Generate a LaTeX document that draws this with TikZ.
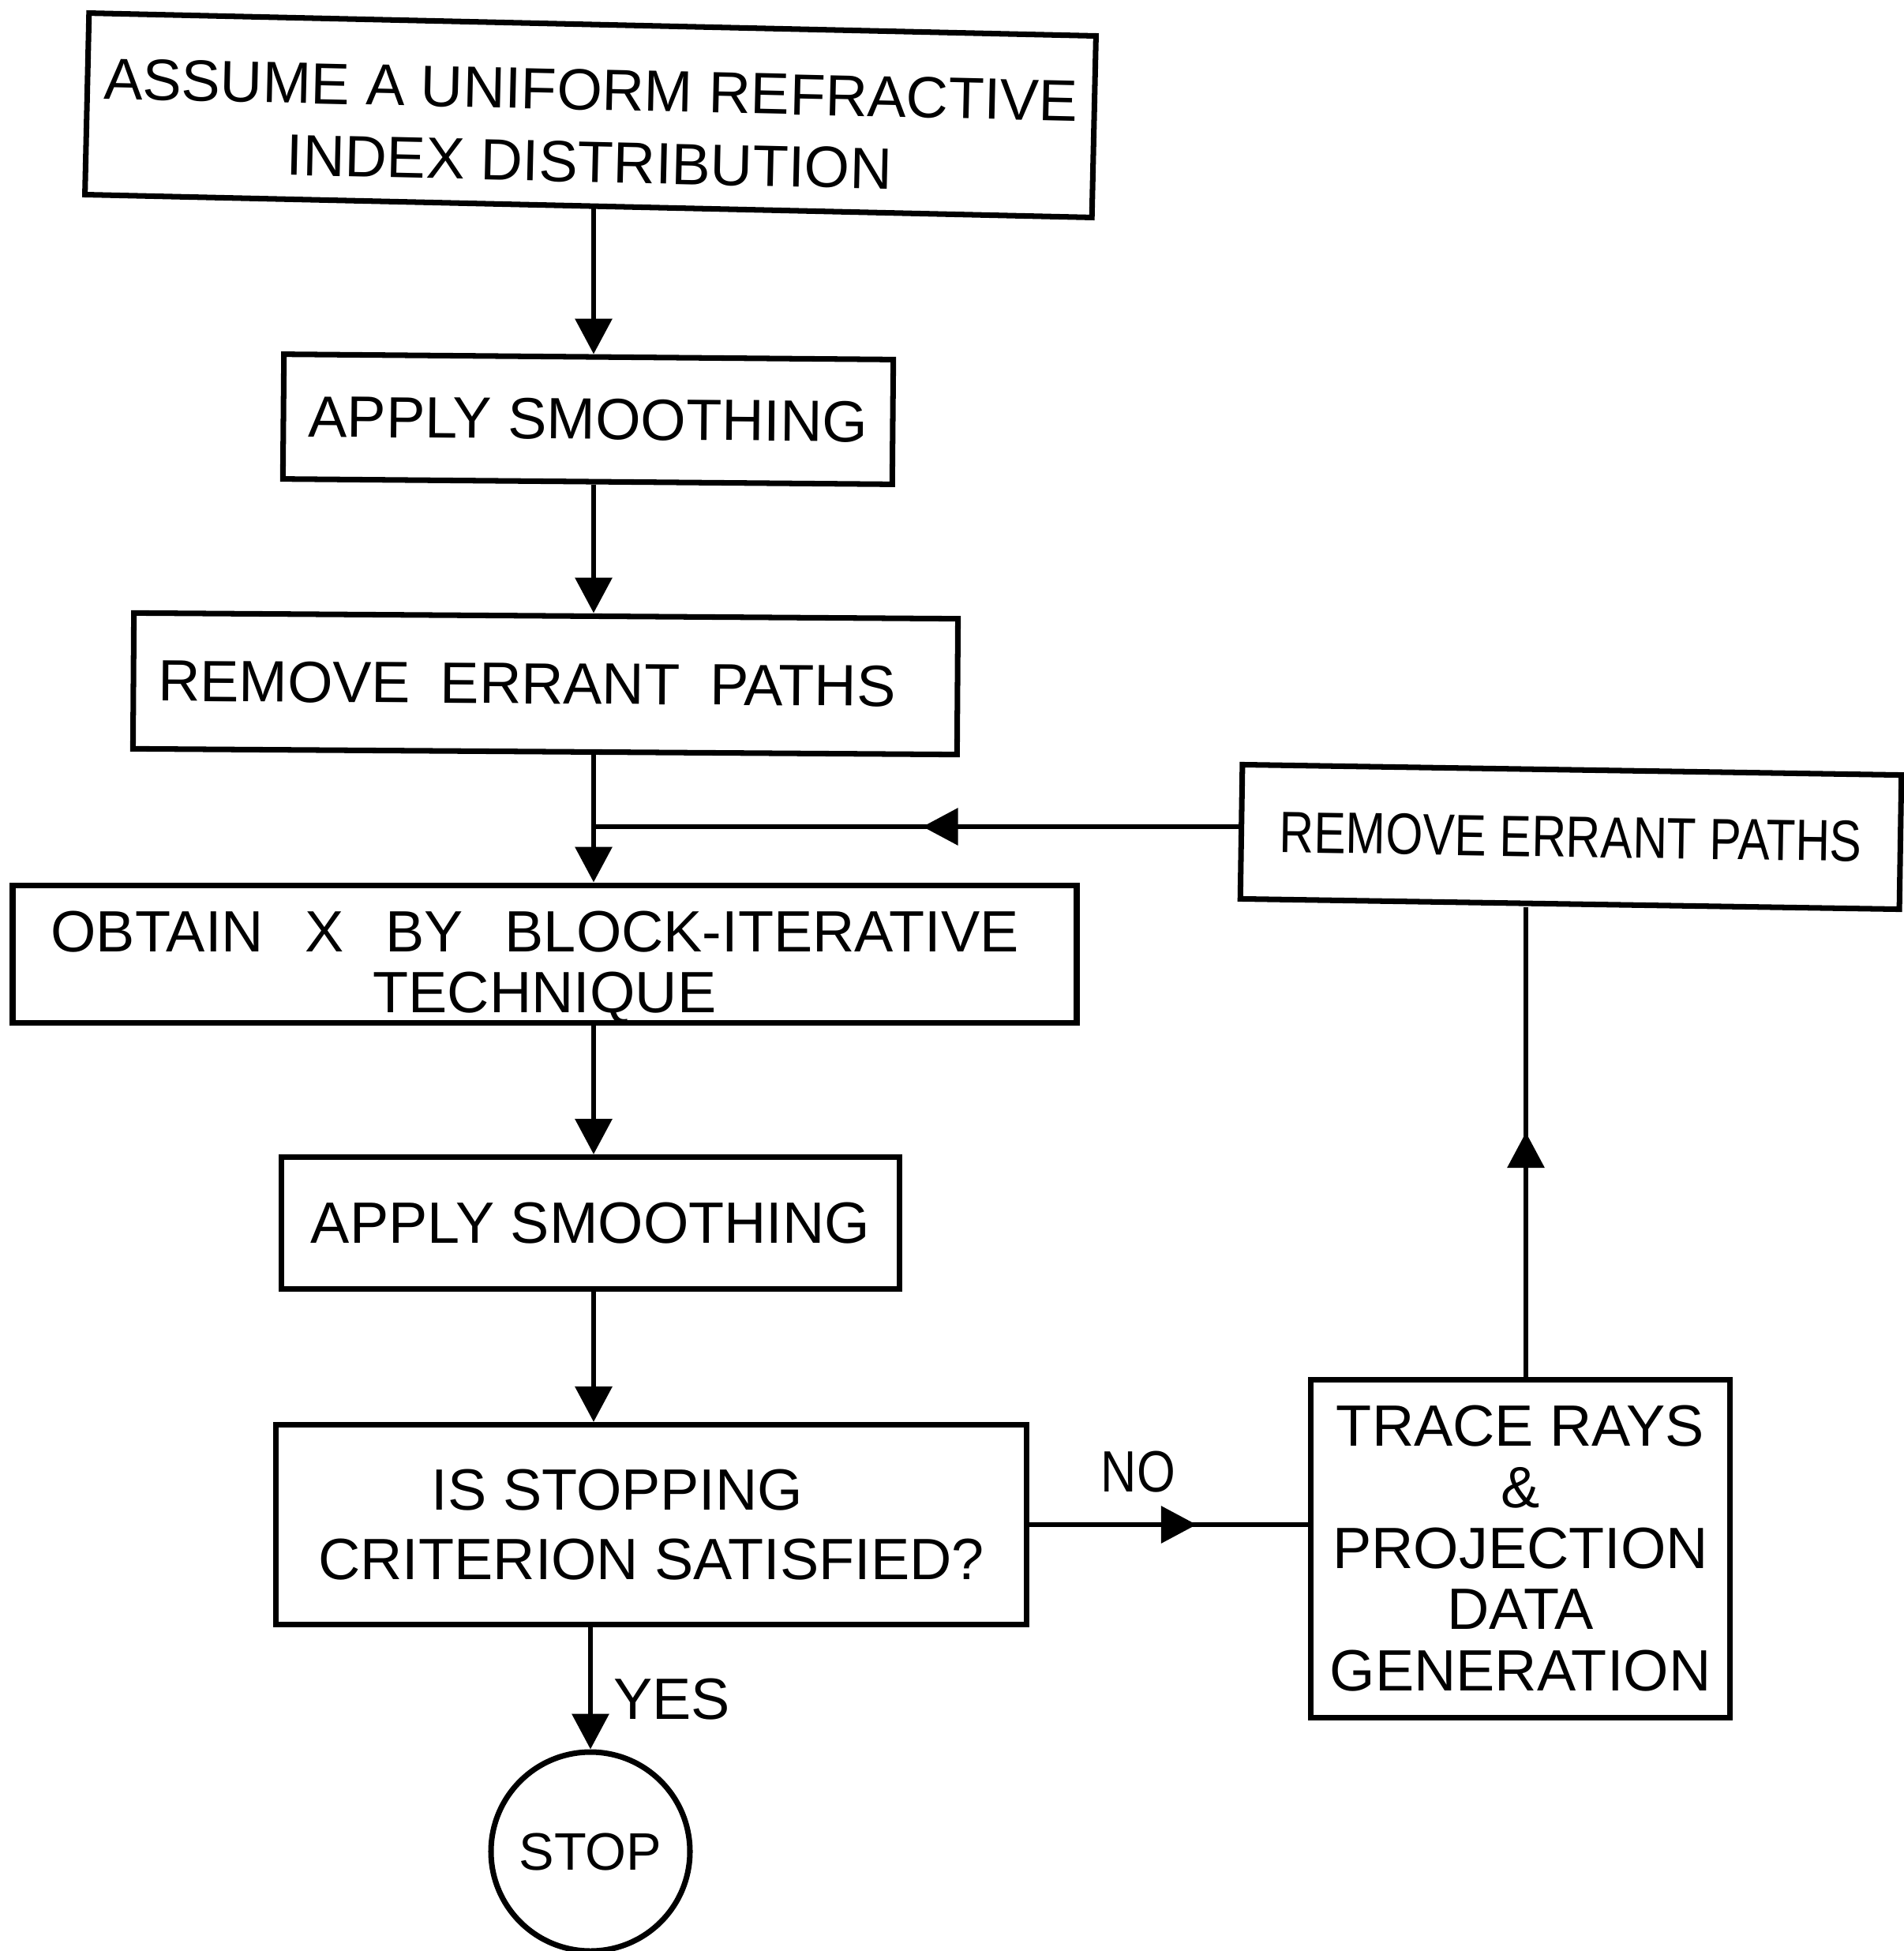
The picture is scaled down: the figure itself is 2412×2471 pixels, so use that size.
\documentclass[tikz,border=0pt]{standalone}
\usepackage{fontspec}
\usepackage{graphicx}
\setmainfont{Liberation Sans}
\usetikzlibrary{arrows.meta,decorations.markings}
\newcommand{\stk}[3]{\raisebox{#1}[0pt][0pt]{\fontsize{21}{#2}\selectfont\begin{tabular}[b]{@{}c@{}}#3\end{tabular}}}
\begin{document}
\begin{tikzpicture}[x=0.1mm,y=-0.1mm,
  box/.style={draw,line width=2pt,inner sep=0pt,align=center,font=\fontsize{21}{25}\selectfont},
  conn/.style={line width=1.9pt},
  tip/.style={-{Triangle[length=4.5mm,width=4.6mm]}},
  lbl/.style={inner sep=0pt,font=\fontsize{21}{25}\selectfont},
  midtip/.style={postaction={decorate},decoration={markings,mark=at position #1 with {\arrow{Triangle[length=4.5mm,width=4.6mm]}}}}
]
\useasboundingbox[fill=white] (0,0) rectangle (2412,2471);

\coordinate (sp) at (752,0);
\coordinate (rs) at (1933,0);

\node[box,minimum width=127.6mm,minimum height=23mm,rotate=-1.3] (b1) at (748,146) {\stk{-24.1pt}{26}{ASSUME A UNIFORM REFRACTIVE\\INDEX DISTRIBUTION}};
\node[box,minimum width=77.2mm,minimum height=15.8mm,rotate=-0.5] (b2) at (745,531) {APPLY SMOOTHING};
\node[box,minimum width=104.4mm,minimum height=17.2mm,rotate=-0.4] (b3) at (691,866) {\makebox[93.4mm][s]{REMOVE \ ERRANT \ PATHS}\hspace*{4.7mm}};
\node[box,minimum width=134.8mm,minimum height=17.4mm] (b4) at (690,1208) {\stk{-21.3pt}{22}{\makebox[122.6mm][s]{OBTAIN X BY BLOCK-ITERATIVE}\hspace*{2.5mm}\\TECHNIQUE}};
\node[box,minimum width=78.3mm,minimum height=16.7mm] (b5) at (748,1549) {APPLY SMOOTHING};
\node[box,minimum width=95.1mm,minimum height=25.3mm] (b6) at (825,1931) {IS STOPPING\hspace*{8.6mm}\\CRITERION SATISFIED?};
\node[box,minimum width=53.1mm,minimum height=42.8mm,font=\fontsize{21}{22}\selectfont] (b8) at (1926,1961) {TRACE RAYS\\\&\\PROJECTION\\DATA\\GENERATION};
\node[box,minimum width=83.5mm,minimum height=17mm,rotate=-0.9] (b9) at (1990,1060) {\scalebox{0.82}[1]{REMOVE ERRANT PATHS}};
\node[draw,circle,line width=2pt,minimum size=25.2mm,inner sep=0pt,font=\fontsize{19}{22}\selectfont] (stop) at (748,2345) {STOP};

\coordinate (j) at (752,1047);

\draw[conn,tip] (b1.south -| sp) -- (b2.north -| sp);
\draw[conn,tip] (b2.south -| sp) -- (b3.north -| sp);
\draw[conn,tip] (b3.south -| sp) -- (b4.north -| sp);
\draw[conn,midtip=0.49] (j -| b9.west) -- (j);
\draw[conn,tip] (b4.south -| sp) -- (b5.north -| sp);
\draw[conn,tip] (b5.south -| sp) -- (b6.north -| sp);
\draw[conn,tip] (b6.south -| stop) -- (stop.north);
\draw[conn,midtip=0.6] (b6.east) -- (b6.east -| b8.west);
\draw[conn,midtip=0.52] (b8.north -| rs) -- (b9.south -| rs);

\node[lbl] (no) at (1442,1864) {\scalebox{0.85}[1]{NO}};
\node[lbl] (yes) at (851,2152) {YES};
\end{tikzpicture}
\end{document}
